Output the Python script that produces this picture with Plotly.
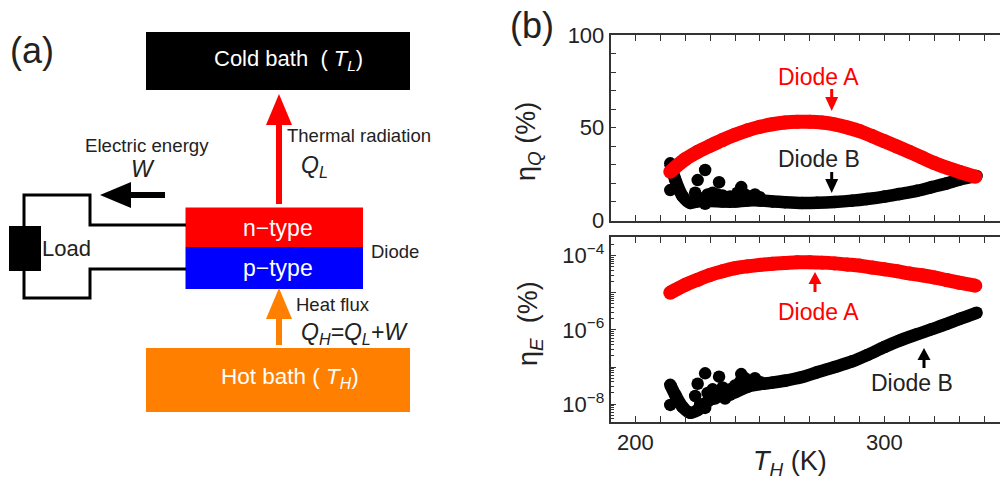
import plotly.graph_objects as go

W_PX, H_PX = 1000, 479

# ---- Data ----
red_T = [214, 220, 225, 230, 235, 240, 245, 250, 255, 260, 265, 270, 275, 280, 285, 290, 295, 300, 305, 310, 315, 320, 325, 330, 336.5]
red_Q = [26.3, 33, 37, 40.3, 43.4, 46.2, 48.6, 50.5, 51.9, 52.8, 53.2, 53.2, 52.8, 51.8, 50.2, 48.2, 45.5, 42.7, 39.9, 37, 34, 31, 28.5, 26.3, 23.6]
red_logE = [-5.0, -4.79, -4.65, -4.52, -4.42, -4.34, -4.29, -4.25, -4.22, -4.2, -4.18, -4.18, -4.19, -4.21, -4.24, -4.27, -4.32, -4.37, -4.42, -4.48, -4.53, -4.59, -4.66, -4.73, -4.81]

black_T = [214, 216, 219, 222, 225, 230, 235, 240, 245, 250, 255, 260, 267, 273, 280, 287, 293, 300, 306, 313, 319, 325, 330, 337]
black_Q = [30.8, 22, 13, 9.5, 10.3, 10.5, 10.2, 10.2, 10.8, 10.8, 10.3, 9.9, 9.5, 9.6, 10, 10.7, 11.6, 12.9, 14.3, 16, 18, 20, 22, 24]
black_logE = [-7.48, -7.75, -8.08, -8.23, -8.16, -7.88, -7.75, -7.68, -7.53, -7.46, -7.42, -7.37, -7.27, -7.14, -7.0, -6.85, -6.68, -6.46, -6.29, -6.12, -5.98, -5.84, -5.71, -5.54]

scatter_T = [214, 225, 228, 233.6, 242.5, 248, 224, 226, 228, 229, 231, 233, 236, 238, 240, 242, 244, 246, 232, 235, 238, 241, 245, 250]
scatter_Q = [16.4, 21.8, 27.2, 20.6, 18, 14, 15, 12, 9, 14, 15, 14, 11, 13, 12, 14, 14, 13, 12, 13.5, 11, 15, 12, 12.5]
scatter_logE = [-8.02, -7.45, -7.17, -7.26, -7.19, -7.3, -7.78, -8.0, -8.1, -7.7, -7.6, -7.65, -7.85, -7.6, -7.5, -7.4, -7.3, -7.45, -7.85, -7.55, -7.75, -7.62, -7.42, -7.4]

x_ticks = [190, 200, 210, 220, 230, 240, 250, 260, 270, 280, 290, 300, 310, 320, 330, 340]
x_labels = ["", "200", "", "", "", "", "", "", "", "", "", "300", "", "", "", ""]
q_ticks = [0, 10, 20, 30, 40, 50, 60, 70, 80, 90, 100]
q_labels = ["0", "", "", "", "", "50", "", "", "", "", "100"]
e_exponents = [-4, -5, -6, -7, -8]
e_tick_labels = ["10<sup>−4</sup>", "", "10<sup>−6</sup>", "", "10<sup>−8</sup>"]
e_minor_mantissas = [2, 3, 4, 5, 6, 7, 8, 9]
e_minor_decades = [-9, -8, -7, -6, -5, -4]

RED = "#FF0000"
BLUE = "#0000FF"
ORANGE = "#FF8000"
INK = "#222222"
FONT = "Liberation Sans"
E_RANGE = [-8.48, -3.5]


def fx(px):
    return px / W_PX


def fy(py):
    return 1 - py / H_PX


e_minor = [m * 10.0 ** d for d in e_minor_decades for m in e_minor_mantissas
           if 10 ** E_RANGE[0] <= m * 10.0 ** d <= 10 ** E_RANGE[1]]

fig = go.Figure()


def add_series(row):
    yname = "y" if row == 1 else "y2"
    xname = "x" if row == 1 else "x2"
    conv = (lambda a: a) if row == 1 else (lambda a: [10 ** v for v in a])
    by, sy, ry = (black_Q, scatter_Q, red_Q) if row == 1 else (black_logE, scatter_logE, red_logE)
    fig.add_trace(go.Scatter(x=black_T, y=conv(by), mode="lines+markers", xaxis=xname, yaxis=yname,
                             line=dict(color="black", width=12.5, shape="spline", smoothing=0.8),
                             marker=dict(color="black", size=12.5), showlegend=False))
    fig.add_trace(go.Scatter(x=scatter_T, y=conv(sy), mode="markers", xaxis=xname, yaxis=yname,
                             marker=dict(color="black", size=12.5), showlegend=False))
    fig.add_trace(go.Scatter(x=red_T, y=conv(ry), mode="lines+markers", xaxis=xname, yaxis=yname,
                             line=dict(color=RED, width=14, shape="spline"),
                             marker=dict(color=RED, size=14), showlegend=False))


add_series(1)
add_series(2)
# empty trace so the overlay axis carrying the short log ticks gets drawn
fig.add_trace(go.Scatter(x=[None], y=[None], xaxis="x2", yaxis="y3", showlegend=False))

shapes = []
annotations = []


def rect(x0, y0, x1, y1, color):
    shapes.append(dict(type="rect", xref="paper", yref="paper", x0=fx(x0), x1=fx(x1), y0=fy(y0), y1=fy(y1),
                       fillcolor=color, line=dict(width=0), layer="below"))


def poly(points, color, width=3):
    path = "M " + " L ".join(f"{fx(x):.5f},{fy(y):.5f}" for x, y in points)
    shapes.append(dict(type="path", xref="paper", yref="paper", path=path,
                       line=dict(color=color, width=width), layer="below"))


def tri(points, color):
    path = "M " + " L ".join(f"{fx(x):.5f},{fy(y):.5f}" for x, y in points) + " Z"
    shapes.append(dict(type="path", xref="paper", yref="paper", path=path,
                       fillcolor=color, line=dict(width=0), layer="above"))


def varrow(x, tail, tip, base, half, color, width):
    poly([(x, tail), (x, base)], color, width)
    tri([(x, tip), (x - half, base), (x + half, base)], color)


def text(x, y, s, size, color="black", anchor="center", angle=0):
    annotations.append(dict(xref="paper", yref="paper", x=fx(x), y=fy(y), text=s, showarrow=False,
                            xanchor=anchor, yanchor="middle", textangle=angle, borderpad=0, borderwidth=0,
                            font=dict(family=FONT, size=size, color=color)))


# ---- Panel (a) ----
rect(146, 32, 410, 90, "black")
rect(146, 348, 410, 412, ORANGE)
rect(185.5, 207.5, 363, 247, RED)
rect(185.5, 247, 363, 289, BLUE)
rect(9, 226, 41, 271, "black")
poly([(186, 225), (90, 225), (90, 195), (24, 195), (24, 226)], "black", 3)
poly([(24, 271), (24, 298), (90, 298), (90, 269), (186, 269)], "black", 3)
varrow(279, 204, 94, 125, 13, RED, 6)
varrow(279, 345, 288, 319, 13, ORANGE, 6)
poly([(165, 195), (131, 195)], "black", 6)
tri([(100, 195), (131, 182), (131, 208)], "black")

text(10, 50, "(a)", 36, "#222222", "left")
text(510, 25, "(b)", 36, "#222222", "left")
text(288, 60, "Cold bath  ( <i>T<sub>L</sub></i>)", 22, "white")
text(286.5, 136, "Thermal radiation", 18.5, INK, "left")
text(300.5, 166, "<i>Q<sub>L</sub></i>", 23, INK, "left")
text(84.5, 145, "Electric energy", 18.7, INK, "left")
text(143, 169, "<i>W</i>", 23, INK)
text(41.5, 249, "Load", 22, INK, "left")
text(278, 228, "n−type", 23, "white")
text(278, 268, "p−type", 23, "white")
text(370.5, 251, "Diode", 18.5, INK, "left")
text(295.5, 304, "Heat flux", 18.5, INK, "left")
text(300.5, 333, "<i>Q<sub>H</sub>=Q<sub>L</sub>+W</i>", 23, INK, "left")
text(290, 378, "Hot bath ( <i>T<sub>H</sub></i>)", 22.5, "white")

# ---- Panel (b) labels ----
text(528, 142, "η<sub><i>Q</i></sub> (%)", 27, INK, angle=-90)
text(530, 324, "η<sub><i>E</i></sub>  (%)", 27, INK, angle=-90)
text(790, 463, "<i>T<sub>H</sub></i> (K)", 27, INK)
text(818.5, 77, "Diode A", 23, RED)
text(818.5, 159, "Diode B", 23, INK)
text(818.5, 311.7, "Diode A", 23, RED)
text(911.7, 382.7, "Diode B", 23, INK)
varrow(831.7, 89, 111, 97, 6.5, RED, 3)
varrow(831.7, 172, 193, 179, 6.5, "black", 3)
varrow(815, 292, 272, 284, 6.5, RED, 3)
varrow(924, 368, 348, 360, 6.5, "black", 3)

x_range = [190, 346.4]
axis_line = dict(showline=True, linecolor="#333333", linewidth=1.5, ticks="inside", tickcolor="#333333",
                 tickwidth=1, ticklen=6, showgrid=False, zeroline=False, automargin=False)
tick_font = dict(family=FONT, size=22, color=INK)

fig.update_layout(
    width=W_PX, height=H_PX, margin=dict(l=0, r=0, t=0, b=0, pad=0, autoexpand=False),
    paper_bgcolor="white", plot_bgcolor="white", showlegend=False,
    shapes=shapes, annotations=annotations,
    xaxis=dict(domain=[fx(610.5), 1], range=x_range, anchor="y", mirror="ticks", tickmode="array",
               tickvals=x_ticks, showticklabels=False, **axis_line),
    yaxis=dict(domain=[fy(220.5), fy(35)], range=[0, 100], anchor="x", tickmode="array", tickvals=q_ticks,
               ticktext=q_labels, tickfont=tick_font, **axis_line),
    xaxis2=dict(domain=[fx(610.5), 1], range=x_range, anchor="y2", mirror="ticks", tickmode="array",
                tickvals=x_ticks, ticktext=x_labels, tickfont=tick_font, **axis_line),
    yaxis2=dict(domain=[fy(422), fy(237)], type="log", range=E_RANGE, anchor="x2", tickmode="array",
                tickvals=[10.0 ** e for e in e_exponents], ticktext=e_tick_labels, tickfont=tick_font,
                **axis_line),
    yaxis3=dict(domain=[fy(422), fy(237)], type="log", range=E_RANGE, anchor="x2", overlaying="y2", side="left",
                tickmode="array", tickvals=e_minor, ticktext=[""] * len(e_minor), ticks="inside", ticklen=3,
                tickwidth=1, tickcolor="#333333", showgrid=False, zeroline=False, showline=False, automargin=False),
)

fig.write_html("out.html", config=dict(displayModeBar=False),
               post_script="document.body.style.margin='0';document.body.style.overflow='hidden';")
